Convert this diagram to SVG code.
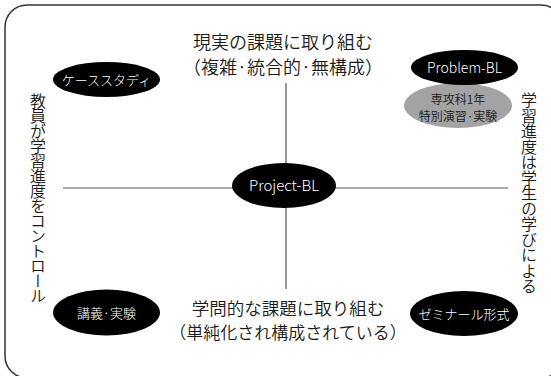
<svg xmlns="http://www.w3.org/2000/svg" width="551" height="376" viewBox="0 0 551 376">
<style>
.jp{font-family:"Noto Sans CJK JP","Noto Sans",sans-serif;fill:#1a1a1a;font-weight:350}
.node{fill:#000}
.lbl{font-family:"Noto Sans CJK JP","Liberation Sans",sans-serif;fill:#fff;font-size:13px;text-anchor:middle;font-weight:300}
.en{font-family:"Noto Sans CJK JP","Liberation Sans",sans-serif;fill:#fff;text-anchor:middle;font-weight:300}
.axis{stroke:#555;stroke-width:1.2;fill:none}
.title{font-size:18px;text-anchor:middle}
.vert{font-size:16px;writing-mode:vertical-rl}
</style>
<rect x="5" y="5" width="558" height="373" rx="22" ry="22" fill="#fff" stroke="#333" stroke-width="1.5"/>
<g id="connectors">
<line class="axis" x1="286" y1="83" x2="286" y2="289"/>
<line class="axis" x1="63" y1="188" x2="508" y2="188"/>
</g>
<g id="title-top">
<text class="jp title"><tspan x="283" y="49">現実の課題に取り組む</tspan><tspan x="283" y="74">（複雑·統合的·無構成）</tspan></text>
</g>
<g id="title-bottom">
<text class="jp" font-size="17.5" text-anchor="middle"><tspan x="288" y="315">学問的な課題に取り組む</tspan><tspan x="288" y="339" font-size="17">（単純化され構成されている）</tspan></text>
</g>
<g id="label-left">
<text class="jp vert" x="38" y="93" letter-spacing="-1">教員が学習進度をコントロール</text>
</g>
<g id="label-right">
<text class="jp vert" x="529" y="92" letter-spacing="-0.5">学習進度は学生の学びによる</text>
</g>
<g id="case-study">
<ellipse class="node" cx="106.5" cy="79.5" rx="53.5" ry="17.5"/>
<text class="lbl" x="106.5" y="84.5">ケーススタディ</text>
</g>
<g id="sen-kou">
<ellipse cx="458" cy="105.5" rx="54" ry="22.5" fill="#a3a3a3"/>
<text class="jp" font-size="12" text-anchor="middle" fill="#2a2a2a"><tspan x="458" y="103.5">専攻科1年</tspan><tspan x="458" y="121">特別演習·実験</tspan></text>
</g>
<g id="problem-bl">
<ellipse class="node" cx="464.5" cy="67.5" rx="53.5" ry="17.5"/>
<text class="en" x="464.5" y="72.5" font-size="14">Problem-BL</text>
</g>
<g id="project-bl">
<ellipse class="node" cx="284" cy="185.5" rx="52" ry="22.5"/>
<text class="en" x="284" y="191" font-size="15">Project-BL</text>
</g>
<g id="lecture">
<ellipse class="node" cx="106.5" cy="312.5" rx="53.5" ry="23"/>
<text class="lbl" x="106.5" y="317.5">講義·実験</text>
</g>
<g id="seminar">
<ellipse class="node" cx="464" cy="313.5" rx="54" ry="22.5"/>
<text class="lbl" x="464" y="318.5">ゼミナール形式</text>
</g>
</svg>
